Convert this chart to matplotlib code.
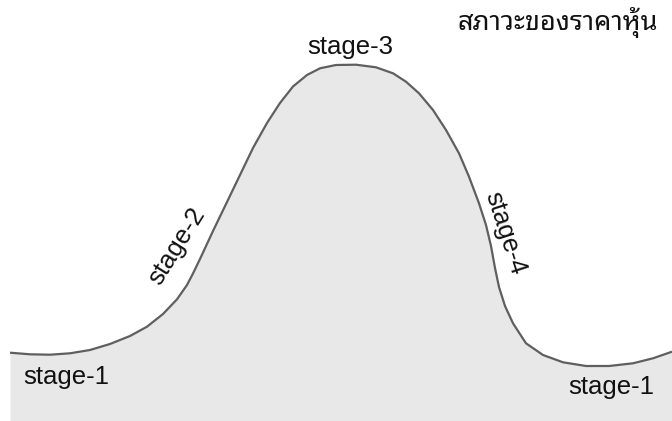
import matplotlib
matplotlib.use("Agg")
import matplotlib.pyplot as plt

# Price-cycle curve (time axis 0..672, price axis 0..421)
time = [10, 30, 50, 70, 90, 110, 130, 147, 163, 177, 187, 193, 200, 213, 227,
        240, 253, 267, 280, 293, 307, 320, 336, 356, 376, 393, 406, 419, 433,
        446, 459, 469, 479, 486, 491, 495, 499, 505, 513, 526, 543, 563, 586,
        609, 633, 653, 672]
price = [68.3, 66.7, 66.3, 67.7, 71.0, 77.0, 85.0, 94.3, 107.0, 121.7, 136.0,
         147.5, 162.0, 190.0, 219.0, 246.0, 273.0, 298.0, 318.0, 334.5, 346.0,
         352.7, 356.0, 356.3, 353.7, 347.7, 339.3, 327.7, 311.0, 291.0, 267.7,
         244.3, 217.7, 196.0, 175.0, 153.0, 134.0, 115.0, 97.7, 77.7, 66.0,
         58.7, 55.0, 55.0, 57.7, 62.7, 69.3]

stage_labels = ["stage-1", "stage-2", "stage-3", "stage-4", "stage-1"]
stage_x = [66, 177, 350, 505, 611]
stage_y = [44, 175, 374, 188, 34]
stage_rot = [0, 58, 0, -72, 0]
title = "สภาวะของราคาหุ้น"

fig = plt.figure(figsize=(6.72, 4.21), dpi=100)
ax = fig.add_axes([0, 0, 1, 1])
ax.set_xlim(0, 672)
ax.set_ylim(0, 421)
ax.axis("off")

ax.fill_between(time, price, 0, color="#e8e8e8", lw=0, zorder=1)
ax.plot(time, price, color="#5f5f5f", lw=1.6, zorder=2,
        solid_capstyle="butt", solid_joinstyle="round")

for lab, x, y, r in zip(stage_labels, stage_x, stage_y, stage_rot):
    ax.text(x, y, lab, rotation=r, ha="center", va="center", fontsize=18.5,
            family=["Liberation Sans", "DejaVu Sans"], color="#111111",
            rotation_mode="anchor", zorder=3)

ax.text(558, 399, title, ha="center", va="center", fontsize=19.5,
        family=["Noto Sans Thai Looped", "DejaVu Sans"], color="#111111", zorder=3)

fig.savefig("out.png", dpi=100)
